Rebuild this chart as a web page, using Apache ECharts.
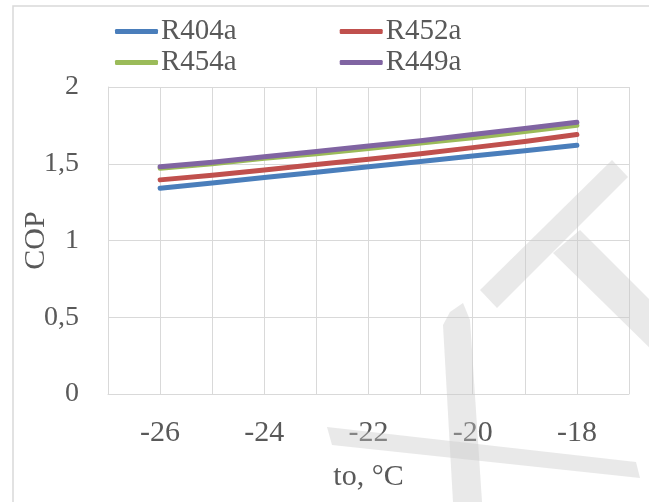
<!DOCTYPE html>
<html>
<head>
<meta charset="utf-8">
<script src="https://cdn.jsdelivr.net/npm/echarts@6/dist/echarts.min.js"></script>
<style>
html,body{margin:0;padding:0;background:#fff;}
#c{width:649px;height:502px;}
</style>
</head>
<body>
<div id="c"></div>
<script>
var xValues = [-26, -25, -24, -23, -22, -21, -20, -19, -18];
var r404a = [1.34, 1.375, 1.41, 1.445, 1.48, 1.515, 1.55, 1.585, 1.62];
var r452a = [1.395, 1.425, 1.46, 1.495, 1.53, 1.565, 1.605, 1.645, 1.69];
var r454a = [1.47, 1.50, 1.535, 1.565, 1.60, 1.635, 1.67, 1.71, 1.75];
var r449a = [1.48, 1.51, 1.545, 1.58, 1.615, 1.65, 1.69, 1.73, 1.77];
var seriesNames = ['R404a', 'R452a', 'R454a', 'R449a'];
var seriesColors = ['#4A7EBB', '#C0504D', '#9BBB59', '#8064A2'];
var xTickLabels = [-26, -24, -22, -20, -18];
var yTickLabels = ['0', '0,5', '1', '1,5', '2'];

var font = 'Liberation Serif';
var txt = '#595959';
var grid = '#D9D9D9';

function pairs(arr) { return xValues.map(function (x, i) { return [x, arr[i]]; }); }
var allData = [r404a, r452a, r454a, r449a];

var chart = echarts.init(document.getElementById('c'));
var legendCommon = {
  left: 115, width: 400, padding: 0, itemWidth: 43, itemHeight: 5, itemGap: 103,
  icon: 'roundRect',
  textStyle: { fontFamily: font, fontSize: 29, color: txt, padding: [0, 0, 0, -2] },
  selectedMode: false
};
chart.setOption({
  animation: false,
  backgroundColor: '#fff',
  legend: [
    Object.assign({}, legendCommon, { top: 17, data: ['R404a', 'R452a'] }),
    Object.assign({}, legendCommon, { top: 48, data: ['R454a', 'R449a'] })
  ],
  grid: { left: 108, right: 20, top: 87, bottom: 108, containLabel: false },
  xAxis: {
    type: 'value', min: -27, max: -17, interval: 1,
    name: 'to, °C', nameLocation: 'middle', nameGap: 68, nameMoveOverlap: false,
    nameTextStyle: { fontFamily: font, fontSize: 30, color: txt },
    axisLine: { show: true, lineStyle: { color: grid, width: 1 } },
    axisTick: { show: false },
    splitLine: { show: true, lineStyle: { color: grid, width: 1 } },
    axisLabel: {
      margin: 24, fontFamily: font, fontSize: 30, color: txt,
      formatter: function (v) { return xTickLabels.indexOf(v) >= 0 ? String(v) : ''; }
    }
  },
  yAxis: {
    type: 'value', min: 0, max: 2, interval: 0.5,
    name: 'COP', nameLocation: 'middle', nameGap: 57, nameRotate: 90, nameMoveOverlap: false,
    nameTextStyle: { fontFamily: font, fontSize: 30, color: txt },
    axisLine: { show: true, lineStyle: { color: grid, width: 1 } },
    axisTick: { show: false },
    splitLine: { show: true, lineStyle: { color: grid, width: 1 } },
    axisLabel: {
      margin: 29, fontFamily: font, fontSize: 28, color: txt,
      formatter: function (v) { return yTickLabels[Math.round(v / 0.5)]; }
    }
  },
  series: seriesNames.map(function (n, i) {
    return {
      name: n, type: 'line', data: pairs(allData[i]), symbol: 'none', showSymbol: false,
      color: seriesColors[i],
      itemStyle: { color: seriesColors[i] },
      lineStyle: { width: 5, color: seriesColors[i], cap: 'round', join: 'round' },
      z: 2 + i
    };
  }),
  graphic: [
    { type: 'rect', shape: { x: 13, y: 6, width: 700, height: 600 }, style: { fill: 'none', stroke: '#D9D9D9', lineWidth: 1.5 }, z: 0, silent: true },
    { type: 'polygon', shape: { points: [[612,160],[628,177],[497,308],[480,290]] }, style: { fill: 'rgba(200,200,200,0.4)' }, z: 100, silent: true },
    { type: 'polygon', shape: { points: [[580,230],[660,310],[660,358],[553,253]] }, style: { fill: 'rgba(200,200,200,0.4)' }, z: 100, silent: true },
    { type: 'polygon', shape: { points: [[450,312],[463,303],[470,320],[482,502],[453,502],[443,325]] }, style: { fill: 'rgba(200,200,200,0.4)' }, z: 100, silent: true },
    { type: 'polygon', shape: { points: [[327,427],[636,462],[640,478],[332,445]] }, style: { fill: 'rgba(200,200,200,0.4)' }, z: 100, silent: true }
  ]
});
</script>
</body>
</html>
